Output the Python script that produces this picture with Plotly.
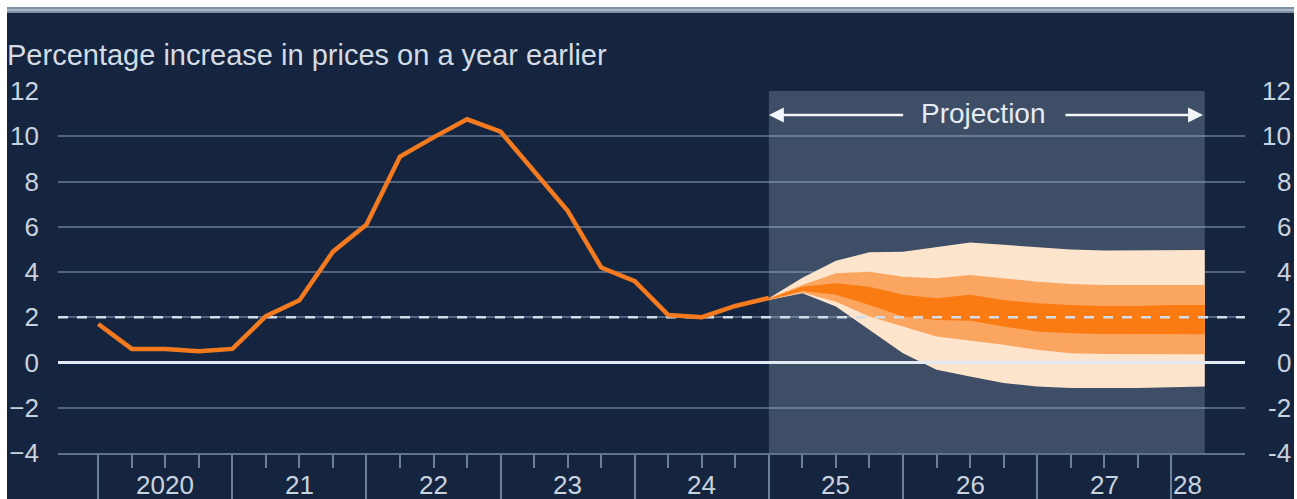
import plotly.graph_objects as go

# ---------------- data ----------------
# quarterly index: 0 = 2020 Q1, 4 = 2021 Q1, ... 32 = 2028 Q1
hist_q = list(range(0, 21))
hist_cpi = [1.7, 0.6, 0.6, 0.5, 0.6, 2.05, 2.75, 4.9, 6.1, 9.1, 9.95, 10.75,
            10.2, 8.45, 6.7, 4.2, 3.6, 2.1, 2.0, 2.5, 2.85]

fan_q = list(range(20, 34))
outer_hi = [2.84, 3.75, 4.5, 4.87, 4.9, 5.1, 5.3, 5.2, 5.1, 5.0, 4.95, 4.95, 4.97, 4.97]
outer_lo = [2.76, 3.06, 2.47, 1.44, 0.41, -0.32, -0.62, -0.91, -1.06, -1.13, -1.13, -1.13, -1.1, -1.06]
mid_hi = [2.84, 3.43, 3.94, 4.01, 3.79, 3.72, 3.87, 3.72, 3.57, 3.47, 3.43, 3.43, 3.43, 3.43]
mid_lo = [2.76, 3.09, 2.69, 2.03, 1.59, 1.15, 0.97, 0.78, 0.56, 0.41, 0.38, 0.37, 0.37, 0.37]
inner_hi = [2.82, 3.35, 3.5, 3.35, 2.99, 2.84, 2.99, 2.76, 2.62, 2.54, 2.5, 2.5, 2.54, 2.54]
inner_lo = [2.78, 3.16, 2.99, 2.54, 2.03, 1.88, 1.84, 1.59, 1.37, 1.29, 1.26, 1.25, 1.25, 1.25]

year_labels = ["2020", "21", "22", "23", "24", "25", "26", "27", "28"]
year_label_q = [2, 6, 10, 14, 18, 22, 26, 30, 32]
y_ticks = [-4, -2, 0, 2, 4, 6, 8, 10, 12]
target = 2.0
proj_start, proj_end = 20, 33

# ---------------- style ----------------
W, H = 1297, 499
L, R, T, B = 58, 52, 91, 46
PW, PH = W - L - R, H - T - B
NAVY = "#15253f"
SLATE = "#3e4e66"
GRID = "rgba(160,180,205,0.45)"
TXT = "#c9d3df"
FONT = "Liberation Sans, Arial, sans-serif"
ORANGE = "#f47a1f"


def px_x(px):
    return (px - L) / PW


def px_y(py):
    return (H - B - py) / PH


fig = go.Figure()


def band(hi, lo, color):
    fig.add_trace(go.Scatter(
        x=fan_q + fan_q[::-1], y=hi + lo[::-1], fill="toself",
        fillcolor=color, line=dict(width=0), mode="lines",
        hoverinfo="skip", showlegend=False))


band(outer_hi, outer_lo, "#fde4cd")
band(mid_hi, mid_lo, "#fba660")
band(inner_hi, inner_lo, "#fa7b12")

xr = [-1.2, 34.2]
fig.add_trace(go.Scatter(x=xr, y=[target, target], mode="lines",
                         line=dict(color="#d3dce7", width=2.5, dash="10px,9px"),
                         hoverinfo="skip", showlegend=False))
fig.add_trace(go.Scatter(x=xr, y=[0, 0], mode="lines",
                         line=dict(color="#e2eaf3", width=3),
                         hoverinfo="skip", showlegend=False))
fig.add_trace(go.Scatter(x=hist_q, y=hist_cpi, mode="lines",
                         line=dict(color=ORANGE, width=4.5),
                         hoverinfo="skip", showlegend=False))

shapes = [
    dict(type="rect", xref="paper", yref="paper", x0=px_x(7), x1=px_x(1294),
         y0=px_y(499), y1=px_y(13), fillcolor=NAVY, line=dict(width=0), layer="below"),
    dict(type="rect", xref="paper", yref="paper", x0=px_x(7), x1=px_x(1294),
         y0=px_y(13), y1=px_y(7), fillcolor="#8192a8", line=dict(width=0), layer="below"),
    dict(type="rect", xref="paper", yref="paper", x0=px_x(7), x1=px_x(1294),
         y0=px_y(11), y1=px_y(9), fillcolor="#a9b6c6", line=dict(width=0), layer="below"),
    dict(type="rect", xref="x", yref="y", x0=proj_start, x1=proj_end,
         y0=y_ticks[0], y1=y_ticks[-1], fillcolor=SLATE, line=dict(width=0), layer="below"),
]

ann = []
ann.append(dict(xref="paper", yref="paper", x=px_x(5), y=px_y(55.5), xanchor="left",
                yanchor="middle", showarrow=False,
                text="Percentage increase in prices on a year earlier",
                font=dict(family=FONT, size=29, color="#d3dbe5")))
for lab, q in zip(year_labels, year_label_q):
    ann.append(dict(xref="x", yref="paper", x=q, y=px_y(485),
                    xanchor="left" if lab == "28" else "center", yanchor="middle",
                    showarrow=False, text=lab,
                    font=dict(family=FONT, size=26, color=TXT)))
for v in y_ticks:
    ann.append(dict(xref="paper", yref="y", x=px_x(1293), y=v, xanchor="right",
                    yanchor="middle", showarrow=False, text=str(v),
                    font=dict(family=FONT, size=26, color=TXT)))
# projection label and arrows
ann.append(dict(xref="x", yref="y", x=26.4, y=11.0, showarrow=False, text="Projection",
                xanchor="center", yanchor="middle",
                font=dict(family=FONT, size=28, color="#e6ecf3")))
ann.append(dict(xref="x", yref="y", axref="x", ayref="y", x=proj_start, y=10.94,
                ax=24.05, ay=10.94, text="", showarrow=True, arrowhead=2,
                arrowsize=1.2, arrowwidth=2.5, arrowcolor="#f2f5f9", standoff=0))
ann.append(dict(xref="x", yref="y", axref="x", ayref="y", x=proj_end - 0.05, y=10.94,
                ax=28.8, ay=10.94, text="", showarrow=True, arrowhead=2,
                arrowsize=1.2, arrowwidth=2.5, arrowcolor="#f2f5f9", standoff=0))

fig.update_layout(
    width=W, height=H, margin=dict(l=L, r=R, t=T, b=B, pad=0, autoexpand=False),
    paper_bgcolor="white", plot_bgcolor=NAVY,
    shapes=shapes, annotations=ann, showlegend=False,
    xaxis=dict(range=xr, showgrid=False, zeroline=False, showticklabels=False,
               automargin=False,
               tickmode="array", tickvals=list(range(0, 33, 4)),
               ticks="outside", ticklen=46, tickwidth=2, tickcolor="#6d7e98",
               minor=dict(tickmode="array",
                          tickvals=[q for q in range(1, 32) if q % 4 != 0],
                          ticks="outside", ticklen=13, tickwidth=2, tickcolor="#6d7e98"),
               showline=True, linecolor="#61728c", linewidth=2, fixedrange=True),
    yaxis=dict(range=[y_ticks[0], y_ticks[-1]], tickmode="array", tickvals=y_ticks,
               automargin=False,
               showgrid=True, gridcolor=GRID, gridwidth=2, zeroline=False,
               ticks="", ticklabelstandoff=18, showline=False,
               tickfont=dict(family=FONT, size=26, color=TXT), fixedrange=True),
)

fig.write_html("out.html")
